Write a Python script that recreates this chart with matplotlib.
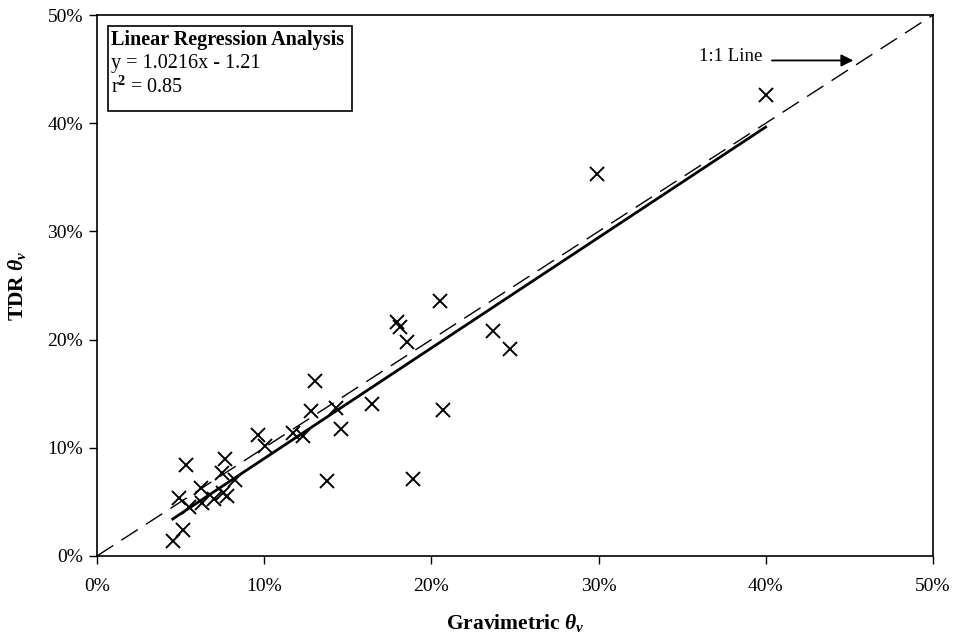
import numpy as np
import matplotlib.pyplot as plt
from matplotlib.patches import Rectangle
from matplotlib.ticker import FuncFormatter

plt.rcParams['font.family'] = ['Liberation Serif', 'DejaVu Serif']
plt.rcParams['mathtext.fontset'] = 'custom'
plt.rcParams['mathtext.rm'] = 'Liberation Serif:bold'
plt.rcParams['mathtext.it'] = 'Liberation Serif:bold:italic'
plt.rcParams['mathtext.bf'] = 'Liberation Serif:bold'

# gravimetric vs TDR volumetric water content (%)
gravimetric = [4.53, 5.13, 5.32, 4.92, 5.52, 6.22, 6.26, 7.00, 7.46, 7.66, 7.55,
               7.76, 8.25, 9.65, 10.05, 11.74, 12.34, 12.78, 13.04, 13.77, 14.29,
               14.58, 16.43, 17.96, 18.12, 18.52, 18.88, 20.51, 20.68, 23.70,
               24.70, 29.92, 39.99]
tdr = [1.42, 2.41, 8.44, 5.35, 4.57, 6.28, 4.89, 5.26, 7.67, 8.97, 5.82,
       5.57, 7.05, 11.22, 10.14, 11.38, 11.07, 13.39, 16.17, 6.89, 13.70,
       11.75, 14.01, 21.64, 21.18, 19.82, 7.12, 23.59, 13.45, 20.75,
       19.11, 35.28, 42.61]

slope = 1.0216
intercept = -1.21
r2 = 0.85

fig = plt.figure(figsize=(9.59, 6.36), dpi=100)
ax = fig.add_axes([0.1011, 0.1258, 0.8718, 0.8506])

# 1:1 line
ax.plot([0, 50], [0, 50], color='black', lw=1.0, dashes=(14, 7))

# regression line over the data range
xr = np.array([min(gravimetric), max(gravimetric)])
ax.plot(xr, slope * xr + intercept, color='black', lw=2.0)

ax.plot(gravimetric, tdr, linestyle='none', marker='x', ms=10, mew=1.4, color='black')

ax.set_xlim(0, 50)
ax.set_ylim(0, 50)
ax.set_xticks(np.arange(0, 51, 10))
ax.set_yticks(np.arange(0, 51, 10))
pct = FuncFormatter(lambda v, p: '%d%%' % v)
ax.xaxis.set_major_formatter(pct)
ax.yaxis.set_major_formatter(pct)
ax.tick_params(axis='x', direction='out', length=6, width=1, labelsize=14, pad=10)
ax.tick_params(axis='y', direction='out', length=6, width=1, labelsize=14, pad=4)
for s in ax.spines.values():
    s.set_linewidth(1.2)

ax.set_xlabel(r'Gravimetric $\theta_v$', fontsize=15.5, fontweight='bold', labelpad=12)
ax.set_ylabel(r'TDR $\theta_v$', fontsize=15.5, fontweight='bold', labelpad=14)

# regression box
ax.add_patch(Rectangle((0.0128, 0.8226), 0.2919, 0.1571, transform=ax.transAxes,
                       fill=False, ec='black', lw=1.2, zorder=5))
ax.text(0.017, 0.954, 'Linear Regression Analysis', transform=ax.transAxes,
        fontsize=14.5, fontweight='bold', va='center')
ax.text(0.017, 0.911, 'y = %.4fx - %.2f' % (slope, -intercept), transform=ax.transAxes,
        fontsize=14.5, va='center')
ax.text(0.017, 0.867, 'r$^{\\mathrm{2}}$ = %.2f' % r2, transform=ax.transAxes,
        fontsize=14.5, va='center')

# 1:1 annotation
ax.annotate('', xy=(45.4, 45.8), xytext=(40.2, 45.8),
            arrowprops=dict(arrowstyle='-|>', color='black', lw=1.3, mutation_scale=18))
ax.text(39.8, 46.2, '1:1 Line', fontsize=13.5, ha='right', va='center')

fig.savefig('out.png', dpi=100)
